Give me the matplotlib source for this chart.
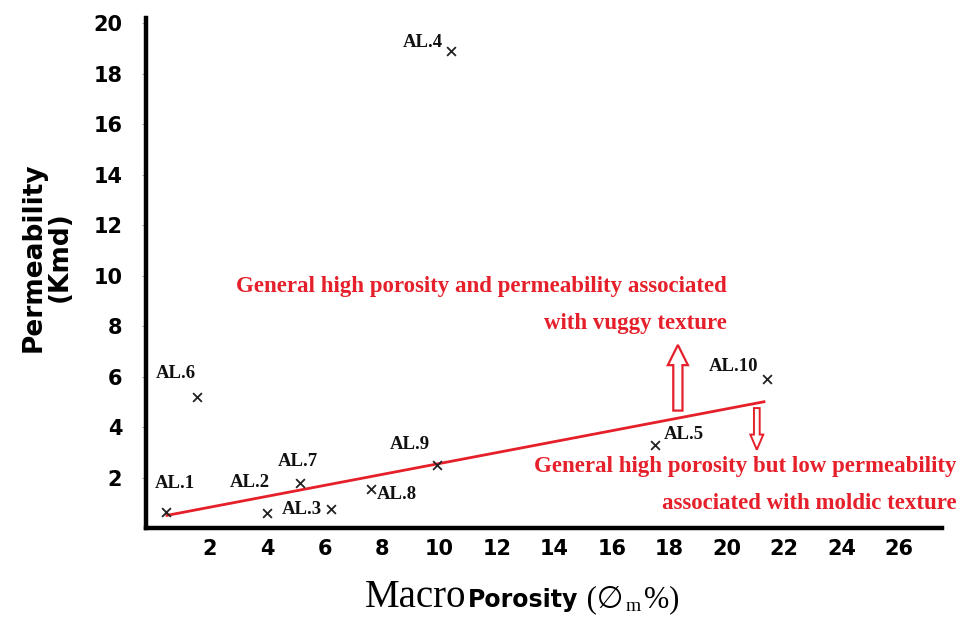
"""
Macro porosity vs permeability cross-plot for the AL samples.
"""

import matplotlib
matplotlib.use("Agg")
import matplotlib.pyplot as plt
from matplotlib.patches import FancyArrow
from matplotlib.offsetbox import TextArea, HPacker, AnnotationBbox

# --- data ---
SAMPLES = ["AL.1", "AL.2", "AL.3", "AL.4", "AL.5",
           "AL.6", "AL.7", "AL.8", "AL.9", "AL.10"]
MACRO_POROSITY = [0.45, 4.0, 6.2, 10.4, 17.5, 1.55, 5.15, 7.6, 9.9, 21.4]
PERMEABILITY = [0.65, 0.6, 0.75, 18.9, 3.3, 5.2, 1.8, 1.55, 2.5, 5.9]

TREND_X = [0.5, 21.3]
TREND_Y = [0.5, 5.0]

X_TICKS = [2, 4, 6, 8, 10, 12, 14, 16, 18, 20, 22, 24, 26]
Y_TICKS = [2, 4, 6, 8, 10, 12, 14, 16, 18, 20]

# label offsets from each marker, in points (dx, dy)
LABEL_OFFSETS = {
    "AL.1": (7, 20), "AL.2": (-13, 22), "AL.3": (-21, 0), "AL.4": (-20, 6),
    "AL.5": (21, 7), "AL.6": (-15, 17), "AL.7": (-2, 15), "AL.8": (19, -4),
    "AL.9": (-19, 15), "AL.10": (-24, 9),
}

RED = "#e5202b"
SERIF = ["Liberation Serif", "DejaVu Serif", "DejaVu Sans"]
SANS_BOLD = dict(family="DejaVu Sans", fontweight="bold")

plt.rcParams["mathtext.fontset"] = "custom"
plt.rcParams["mathtext.rm"] = "Liberation Serif"

fig = plt.figure(figsize=(9.7, 6.19), dpi=100)
ax = fig.add_axes([0.1505, 0.147, 0.8206, 0.824])

ax.plot(TREND_X, TREND_Y, color=RED, lw=2, zorder=2)
ax.scatter(MACRO_POROSITY, PERMEABILITY, marker="x", s=40, color="#222222",
           linewidths=1.3, zorder=3)

for name, x, y in zip(SAMPLES, MACRO_POROSITY, PERMEABILITY):
    ax.annotate(name, (x, y), xytext=LABEL_OFFSETS[name], textcoords="offset points",
                ha="center", va="center", fontsize=13.5, family=SERIF,
                fontweight="bold", color="#111111")

# hollow arrows
ax.add_patch(FancyArrow(18.3, 4.65, 0, 2.6, width=0.32, head_width=0.7,
                        head_length=0.8, length_includes_head=True,
                        facecolor="white", edgecolor=RED, lw=1.6, zorder=4))
ax.add_patch(FancyArrow(21.05, 4.75, 0, -1.65, width=0.2, head_width=0.45,
                        head_length=0.6, length_includes_head=True,
                        facecolor="white", edgecolor=RED, lw=1.4, zorder=4))

ax.text(20.0, 8.85, "General high porosity and permeability associated\nwith vuggy texture",
        ha="right", va="center", multialignment="right", color=RED,
        fontsize=16.5, family=SERIF, fontweight="bold", linespacing=2.0)
ax.text(28.0, 1.7, "General high porosity but low permeability\nassociated with moldic texture",
        ha="right", va="center", multialignment="right", color=RED,
        fontsize=16.5, family=SERIF, fontweight="bold", linespacing=1.95, clip_on=False)

ax.set_xlim(-0.23, 27.5)
ax.set_ylim(0, 20.2)
ax.set_xticks(X_TICKS)
ax.set_yticks(Y_TICKS)
ax.tick_params(axis="y", length=3, width=0.6, color="#999999", pad=14)
ax.tick_params(axis="x", length=0, pad=8)
for lab in ax.get_xticklabels() + ax.get_yticklabels():
    lab.set_fontsize(15)
    lab.set_fontweight("bold")
    lab.set_family("DejaVu Sans")

for side in ["top", "right"]:
    ax.spines[side].set_visible(False)
for side in ["left", "bottom"]:
    ax.spines[side].set_linewidth(3.2)

fig.text(0.048, 0.585, "Permeability\n(Kmd)", rotation=90, ha="center", va="center",
         fontsize=19, linespacing=1.0, **SANS_BOLD)

# composite x label
parts = HPacker(children=[
    TextArea("Macro", textprops=dict(fontsize=28, family=SERIF)),
    TextArea("Porosity", textprops=dict(fontsize=17, **SANS_BOLD)),
    TextArea(" (∅", textprops=dict(fontsize=22, family=SERIF)),
    TextArea(r"$_{\mathregular{m}}$", textprops=dict(fontsize=20, family=SERIF)),
    TextArea("%)", textprops=dict(fontsize=22, family=SERIF)),
], align="baseline", pad=0, sep=1)
fig.add_artist(AnnotationBbox(parts, (0.538, 0.035), xycoords="figure fraction",
                              frameon=False, box_alignment=(0.5, 0.5)))

fig.savefig("out.png", dpi=100)
